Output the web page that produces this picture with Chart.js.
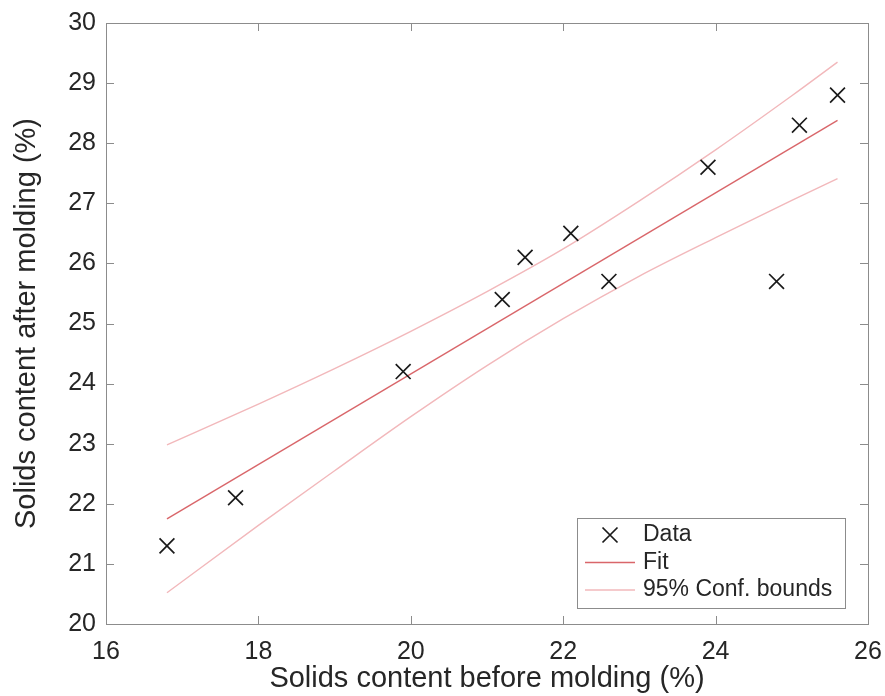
<!DOCTYPE html>
<html>
<head>
<meta charset="utf-8">
<script src="https://cdn.jsdelivr.net/npm/chart.js@4"></script>
<style>
  html, body { margin: 0; padding: 0; background: #fff; }
  #wrap { width: 885px; height: 696px; }
</style>
</head>
<body>
<div id="wrap"><canvas id="fitChart" width="885" height="696"></canvas></div>
<script>
// measured points
const beforeMolding = [16.8, 17.7, 19.9, 21.2, 21.5, 22.1, 22.6, 23.9, 24.8, 25.1, 25.6];
const afterMolding = [21.3, 22.1, 24.2, 25.4, 26.1, 26.5, 25.7, 27.6, 25.7, 28.3, 28.8];

// fitted line (end points)
const fitX = [16.8, 25.6];
const fitY = [21.75, 28.38];

// 95% confidence bounds
const boundX = [16.8, 18, 19, 20, 21, 22, 23, 24, 25, 25.6];
const upperBound = [22.98, 23.66, 24.25, 24.87, 25.53, 26.24, 27.04, 27.89, 28.79, 29.35];
const lowerBound = [20.52, 21.64, 22.55, 23.45, 24.30, 25.08, 25.79, 26.43, 27.05, 27.41];

const FONT = "'Liberation Sans', Arial, sans-serif";
const TEXT = '#262626';
const AXIS = '#8c8c8c';
const FIT_COLOR = '#d9666a';
const BOUND_COLOR = '#f2b8bb';

const pts = (xs, ys) => xs.map((x, i) => ({ x: x, y: ys[i] }));

// box + inward ticks on all four sides, MATLAB style
const boxAxes = {
  id: 'boxAxes',
  afterDraw(chart) {
    const { ctx, chartArea: a, scales } = chart;
    ctx.save();
    ctx.strokeStyle = AXIS;
    ctx.lineWidth = 1;
    ctx.strokeRect(a.left + 0.5, a.top + 0.5, a.right - a.left, a.bottom - a.top);
    const len = 8;
    ctx.beginPath();
    scales.x.ticks.forEach(t => {
      const px = Math.round(scales.x.getPixelForValue(t.value)) + 0.5;
      ctx.moveTo(px, a.bottom); ctx.lineTo(px, a.bottom - len);
      ctx.moveTo(px, a.top); ctx.lineTo(px, a.top + len);
    });
    scales.y.ticks.forEach(t => {
      const py = Math.round(scales.y.getPixelForValue(t.value)) + 0.5;
      ctx.moveTo(a.left, py); ctx.lineTo(a.left + len, py);
      ctx.moveTo(a.right, py); ctx.lineTo(a.right - len, py);
    });
    ctx.stroke();
    ctx.restore();
  }
};

// legend inside the axes, lower right
const insideLegend = {
  id: 'insideLegend',
  afterDraw(chart) {
    const { ctx, chartArea: a } = chart;
    const items = chart.data.datasets.filter(d => !d.hideInLegend);
    const boxW = 268, rowH = 27.5, boxH = 90;
    const x0 = a.right - 23 - boxW, y0 = a.bottom - 16 - boxH;
    ctx.save();
    ctx.fillStyle = '#fff';
    ctx.fillRect(x0, y0, boxW, boxH);
    ctx.strokeStyle = AXIS;
    ctx.lineWidth = 1;
    ctx.strokeRect(x0 + 0.5, y0 + 0.5, boxW, boxH);
    ctx.font = '23px ' + FONT;
    ctx.textBaseline = 'middle';
    items.forEach((d, i) => {
      const cy = y0 + 17 + i * rowH;
      if (d.showLine === false) {
        const cx = x0 + 33, r = 7.5;
        ctx.strokeStyle = d.borderColor;
        ctx.lineWidth = 1.7;
        ctx.beginPath();
        ctx.moveTo(cx - r, cy - r); ctx.lineTo(cx + r, cy + r);
        ctx.moveTo(cx + r, cy - r); ctx.lineTo(cx - r, cy + r);
        ctx.stroke();
      } else {
        ctx.strokeStyle = d.borderColor;
        ctx.lineWidth = d.borderWidth;
        ctx.beginPath();
        ctx.moveTo(x0 + 8, cy); ctx.lineTo(x0 + 58, cy);
        ctx.stroke();
      }
      ctx.fillStyle = TEXT;
      ctx.fillText(d.label, x0 + 66, cy);
    });
    ctx.restore();
  }
};

new Chart(document.getElementById('fitChart'), {
  type: 'scatter',
  data: {
    datasets: [
      {
        label: 'Data',
        data: pts(beforeMolding, afterMolding),
        showLine: false,
        pointStyle: 'crossRot',
        pointRadius: 10.5,
        borderColor: '#1a1a1a',
        borderWidth: 1.7,
        order: 0
      },
      {
        label: 'Fit',
        data: pts(fitX, fitY),
        showLine: true,
        pointRadius: 0,
        borderColor: FIT_COLOR,
        borderWidth: 1.4,
        order: 1
      },
      {
        label: '95% Conf. bounds',
        data: pts(boundX, upperBound),
        showLine: true,
        cubicInterpolationMode: 'monotone',
        pointRadius: 0,
        borderColor: BOUND_COLOR,
        borderWidth: 1.4,
        order: 2
      },
      {
        label: '95% Conf. bounds (lower)',
        hideInLegend: true,
        data: pts(boundX, lowerBound),
        showLine: true,
        cubicInterpolationMode: 'monotone',
        pointRadius: 0,
        borderColor: BOUND_COLOR,
        borderWidth: 1.4,
        order: 2
      }
    ]
  },
  options: {
    responsive: false,
    animation: false,
    layout: { autoPadding: false, padding: { left: 0, right: 17, top: 23, bottom: 0 } },
    plugins: {
      legend: { display: false },
      tooltip: { enabled: false }
    },
    scales: {
      x: {
        type: 'linear',
        min: 16, max: 26,
        grid: { display: false, drawTicks: false },
        border: { display: false },
        ticks: { stepSize: 2, padding: 13, color: TEXT, font: { family: FONT, size: 25 } },
        title: {
          display: true,
          text: 'Solids content before molding (%)',
          color: TEXT,
          font: { family: FONT, size: 29 },
          padding: { top: 0, bottom: 0 }
        },
        afterFit(scale) { scale.height = 72; scale.paddingLeft = 0; scale.paddingRight = 0; }
      },
      y: {
        type: 'linear',
        min: 20, max: 30,
        grid: { display: false, drawTicks: false },
        border: { display: false },
        ticks: { stepSize: 1, padding: 10, color: TEXT, font: { family: FONT, size: 25 } },
        title: {
          display: true,
          text: 'Solids content after molding (%)',
          color: TEXT,
          font: { family: FONT, size: 29 },
          padding: { top: 10, bottom: 0 }
        },
        afterFit(scale) { scale.width = 106; scale.paddingTop = 0; scale.paddingBottom = 0; }
      }
    }
  },
  plugins: [boxAxes, insideLegend]
});
</script>
</body>
</html>
